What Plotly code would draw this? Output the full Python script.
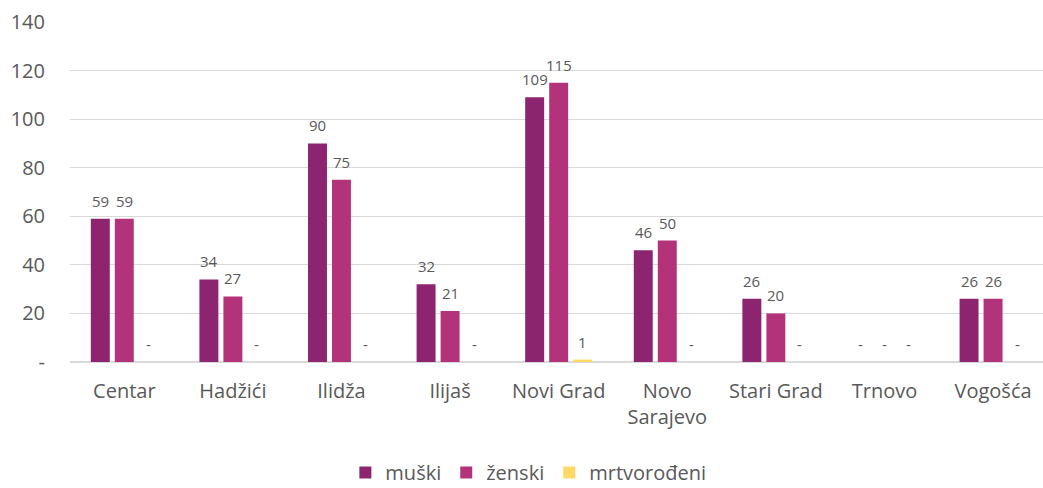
import plotly.graph_objects as go

categories = ["Centar", "Hadžići", "Ilidža", "Ilijaš", "Novi Grad", "Novo<br>Sarajevo",
              "Stari Grad", "Trnovo", "Vogošća"]
muski = [59, 34, 90, 32, 109, 46, 26, 0, 26]
zenski = [59, 27, 75, 21, 115, 50, 20, 0, 26]
mrtvorodeni = [0, 0, 0, 0, 1, 0, 0, 0, 0]

series = [
    ("muški", muski, "#8C2470"),
    ("ženski", zenski, "#B3337B"),
    ("mrtvorođeni", mrtvorodeni, "#FFD966"),
]

font = "Open Sans, Noto Sans, sans-serif"
grey = "#595959"
bargap = 0.337
slot = (1 - bargap) / len(series)

fig = go.Figure()
annotations = []
for k, (name, vals, color) in enumerate(series):
    fig.add_trace(go.Bar(
        x=list(range(len(categories))), y=vals, name=name,
        marker=dict(color=color, line=dict(width=0)),
    ))
    for i, v in enumerate(vals):
        annotations.append(dict(
            x=i + (k - (len(series) - 1) / 2) * slot, y=v, xref="x", yref="y",
            text=str(v) if v else "-", showarrow=False,
            yanchor="bottom", xanchor="center", yshift=6,
            font=dict(size=15, color=grey, family=font),
        ))

fig.update_layout(
    width=1043, height=488,
    margin=dict(l=70, r=0, t=22, b=126, autoexpand=False),
    barmode="group", bargap=bargap, bargroupgap=0.21,
    plot_bgcolor="white", paper_bgcolor="white",
    font=dict(family=font, color=grey, size=20),
    annotations=annotations,
    legend=dict(orientation="h", x=0.283, xanchor="left", y=-0.325, yanchor="middle",
                font=dict(size=20, color=grey), itemwidth=30, traceorder="normal",
                tracegroupgap=0),
    xaxis=dict(range=[-0.5, 8.46], tickvals=list(range(len(categories))),
               ticktext=categories, showgrid=False, showline=True,
               linecolor="#D9D9D9", linewidth=1,
               tickfont=dict(size=20, color=grey), ticks="", ticklabelstandoff=11),
    yaxis=dict(range=[0, 140], tickvals=[0, 20, 40, 60, 80, 100, 120, 140],
               ticktext=["-", "20", "40", "60", "80", "100", "120", "140"],
               showgrid=True, gridcolor="#D9D9D9", gridwidth=1, zeroline=True,
               zerolinecolor="#D9D9D9", tickfont=dict(size=20, color=grey),
               ticklabelstandoff=24, ticks=""),
)

fig.write_html("out.html", config={"displayModeBar": False},
               post_script="document.body.style.margin='0';document.body.style.overflow='hidden';")
